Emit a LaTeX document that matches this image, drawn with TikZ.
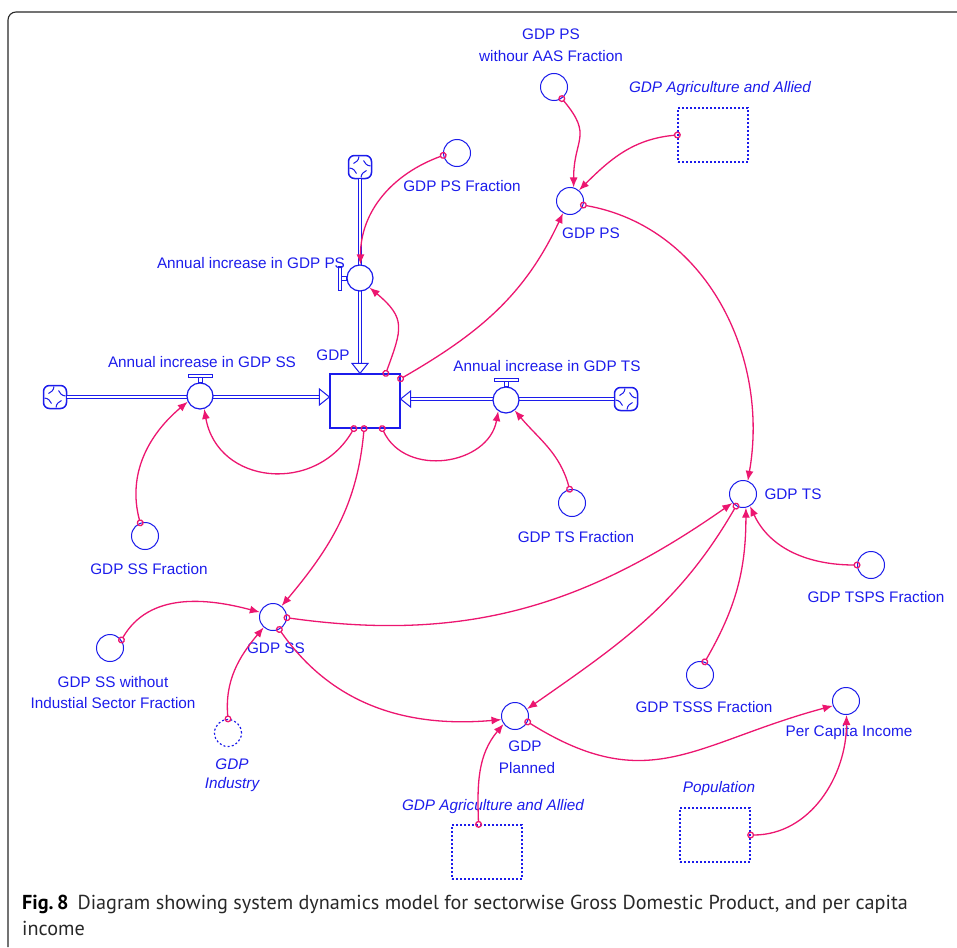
\documentclass[tikz,border=0pt]{standalone}
\usepackage{fontspec}
\setmainfont{Liberation Sans}
\newfontfamily\capfont{PT Sans}
\usetikzlibrary{arrows.meta,calc}
\definecolor{sdblue}{RGB}{28,28,235}
\definecolor{linkpink}{RGB}{236,22,112}
\definecolor{framegray}{RGB}{40,40,40}
\definecolor{captext}{RGB}{40,40,40}

\tikzset{
  aux/.style={circle, draw=sdblue, line width=1pt, minimum size=27pt, inner sep=0pt, fill=white},
  ghostaux/.style={aux, line width=1.2pt, dash pattern=on 2pt off 2.2pt},
  ghostbox/.style={draw=sdblue, line width=1.3pt, dash pattern=on 2pt off 2pt,
    minimum width=70pt, minimum height=54pt, inner sep=0pt},
  lbl/.style={text=sdblue, font=\fontsize{15.3}{17}\selectfont, inner sep=0pt},
  ilbl/.style={text=sdblue, font=\fontsize{15.3}{17}\selectfont\itshape, inner sep=0pt},
  stock/.style={draw=sdblue, line width=1.2pt, minimum width=70pt, minimum height=54pt,
    inner sep=0pt, fill=white},
  valve/.style={circle, draw=sdblue, line width=1.2pt, minimum size=26pt, inner sep=0pt, fill=white},
  source/.style={draw=sdblue, line width=1.5pt, rounded corners=6pt, minimum size=23pt,
    inner sep=0pt, fill=white},
  pipe/.style={draw=sdblue, line width=1pt, double=white, double distance=2.6pt},
  pipehead/.style={draw=sdblue, line width=1pt, fill=white},
  handle/.style={draw=sdblue, line width=1pt, fill=white},
  link/.style={draw=linkpink, line width=1.3pt, shorten <=-3.5pt,
    {Circle[open,length=7pt,width=7pt]}-{Latex[length=10pt,width=8pt]}},
  swirl/.pic={
    \foreach \r in {0,90,180,270}
      \draw[sdblue, line width=1pt, rotate=\r] (10.5,1) .. controls (6.5,1.5) and (5,3.5) .. (3.5,6.5);
  },
}

\begin{document}
\begin{tikzpicture}[x=1pt, y=1pt]
\useasboundingbox (0,0) rectangle (957,-947);

% frame round the figure and its caption
\draw[framegray, line width=1.1pt] (8,-947) -- (8,-20) arc[start angle=180, end angle=90, radius=8] -- (957,-12);

% ---------- stock, sources and flows ----------
\node[stock] (gdp) at (365,-401) {};
\node[lbl, anchor=center] (gdplbl) at (333,-355) {GDP};

\node[source] (cps) at (360,-167) {};
\node[source] (css) at (55,-397) {};
\node[source] (cts) at (626,-399) {};
\pic at (cps) {swirl};
\pic at (css) {swirl};
\pic at (cts) {swirl};

\coordinate (pinT) at (cps.south |- gdp.north);
\coordinate (pinL) at (css.east -| gdp.west);
\coordinate (pinR) at (cts.west -| gdp.east);

\draw[pipe] (cps.south) -- ($(pinT)+(0,10)$);
\draw[pipe] (css.east) -- ($(pinL)+(-10,0)$);
\draw[pipe] (cts.west) -- ($(pinR)+(10,0)$);
\draw[pipehead] (pinT) -- ++(-8,10) -- ++(16,0) -- cycle;
\draw[pipehead] (pinL) -- ++(-10,8) -- ++(0,-16) -- cycle;
\draw[pipehead] (pinR) -- ++(10,8) -- ++(0,-16) -- cycle;

\node[valve] (vps) at (360,-278) {};
\node[valve] (vss) at (200,-396) {};
\node[valve] (vts) at (506,-400) {};

\draw[handle] ($(vps.west)+(0,-2)$) rectangle ($(vps.west)+(-5,2)$);
\draw[handle] ($(vps.west)+(-5,-12)$) rectangle ($(vps.west)+(-8,12)$);
\draw[handle] ($(vss.north)+(-2,0)$) rectangle ($(vss.north)+(2,5)$);
\draw[handle] ($(vss.north)+(-12,5)$) rectangle ($(vss.north)+(12,8)$);
\draw[handle] ($(vts.north)+(-2,0)$) rectangle ($(vts.north)+(2,5)$);
\draw[handle] ($(vts.north)+(-12,5)$) rectangle ($(vts.north)+(12,8)$);

\node[lbl] (vpslbl) at (251,-263) {Annual increase in GDP PS};
\node[lbl] (vsslbl) at (202,-362) {Annual increase in GDP SS};
\node[lbl] (vtslbl) at (547,-366) {Annual increase in GDP TS};

% ---------- auxiliaries and shadow variables ----------
\node[aux] (psaas) at (554,-87) {};
\node[lbl] (psaaslbl1) at (551,-34) {GDP PS};
\node[lbl] (psaaslbl2) at (551,-56) {withour AAS Fraction};

\node[ghostbox] (agritop) at (713,-135) {};
\node[ilbl] (agritoplbl) at (720,-89) {GDP Agriculture and Allied};

\node[aux] (psfrac) at (457,-153) {};
\node[lbl] (psfraclbl) at (462,-186) {GDP PS Fraction};

\node[aux] (gdpps) at (570,-201) {};
\node[lbl] (gdppslbl) at (591,-233) {GDP PS};

\node[aux] (gdpts) at (743,-494) {};
\node[lbl] (gdptslbl) at (793,-494) {GDP TS};

\node[aux] (tsfrac) at (572,-503) {};
\node[lbl] (tsfraclbl) at (576,-537) {GDP TS Fraction};

\node[aux] (ssfrac) at (145,-536) {};
\node[lbl] (ssfraclbl) at (149,-569) {GDP SS Fraction};

\node[aux] (tspsfrac) at (871,-565) {};
\node[lbl] (tspsfraclbl) at (876,-597) {GDP TSPS Fraction};

\node[aux] (gdpss) at (273,-617) {};
\node[lbl] (gdpsslbl) at (276,-648) {GDP SS};

\node[aux] (sswo) at (110,-648) {};
\node[lbl] (sswolbl1) at (113,-682) {GDP SS without};
\node[lbl] (sswolbl2) at (113,-703) {Industial Sector Fraction};

\node[ghostaux] (ind) at (228,-733) {};
\node[ilbl] (indlbl1) at (232,-764) {GDP};
\node[ilbl] (indlbl2) at (232,-785) {Industry};

\node[aux] (tsssfrac) at (700,-675) {};
\node[lbl] (tsssfraclbl) at (704,-707) {GDP TSSS Fraction};

\node[aux] (pci) at (846,-701) {};
\node[lbl] (pcilbl) at (849,-733) {Per Capita Income};

\node[aux] (planned) at (515,-716) {};
\node[lbl] (plannedlbl1) at (525,-746) {GDP};
\node[lbl] (plannedlbl2) at (527,-768) {Planned};

\node[ghostbox] (agribot) at (487,-852) {};
\node[ilbl] (agribotlbl) at (493,-807) {GDP Agriculture and Allied};

\node[ghostbox] (pop) at (715,-835) {};
\node[ilbl] (poplbl) at (719,-789) {Population};

% ---------- information links ----------
\draw[link] (psfrac.190) to[out=200, in=90] (vps.88);
\draw[link] (gdp.53) to[out=70, in=-40, looseness=1.4] (vps.-45);
\draw[link] (gdp.32) to[out=30, in=-115] (gdpps.-120);
\draw[link] (psaas.-56) to[out=-50, in=90, looseness=1.4] (gdpps.75);
\draw[link] (agritop.west) to[out=185, in=45] (gdpps.50);
\draw[link] (gdpps.-17) to[out=-10, in=80] (gdpts.70);
\draw[link] (tspsfrac.180) to[out=180, in=-65] (gdpts.-60);
\draw[link] (tsssfrac.70) to[out=60, in=-90] (gdpts.-78);
\draw[link] (gdpts.-120) to[out=-120, in=35] (planned.30);
\draw[link] (gdpss.-3) to[out=-8, in=215] (gdpts.220);
\draw[link] (gdpss.-63) to[out=-55, in=185] (planned.195);
\draw[link] (gdp.-92) to[out=-95, in=50] (gdpss.52);
\draw[link] (gdp.-112) to[out=-120, in=-80, looseness=1.3] (vss.-72);
\draw[link] (gdp.-58) to[out=-65, in=-100, looseness=1.2] (vts.-125);
\draw[link] (ssfrac.110) to[out=105, in=220] (vss.205);
\draw[link] (tsfrac.100) to[out=105, in=-50] (vts.-50);
\draw[link] (sswo.35) to[out=60, in=165] (gdpss.160);
\draw[link] (ind.90) to[out=95, in=230] (gdpss.228);
\draw[link] (agribot.107) to[out=92, in=230] (planned.215);
\draw[link] (planned.-25) to[out=-32, in=195, looseness=1.2] (pci.200);
\draw[link] (pop.east) to[out=0, in=-90] (pci.-88);

% ---------- caption ----------
\node[anchor=base west, inner sep=0, text=captext, font=\capfont\fontsize{20.2}{26}\selectfont] (cap1) at (22,-909)
  {\textbf{\color{black}Fig.\,8}\hspace{0.45em}Diagram showing system dynamics model for sectorwise Gross Domestic Product, and per capita};
\node[anchor=base west, inner sep=0, text=captext, font=\capfont\fontsize{20.2}{26}\selectfont] (cap2) at (22,-935) {income};
\end{tikzpicture}
\end{document}
